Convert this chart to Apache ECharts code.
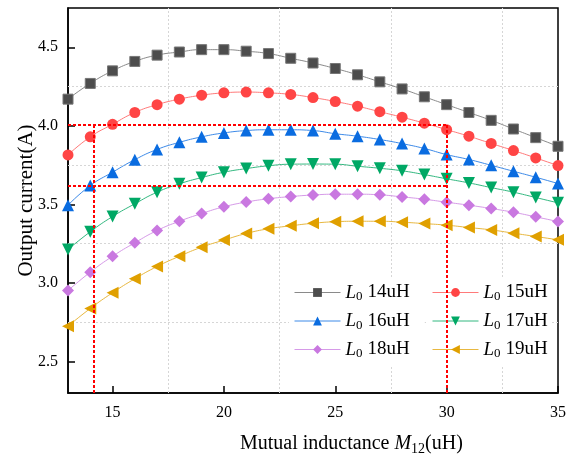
<!DOCTYPE html>
<html><head><meta charset="utf-8">
<script src="https://cdn.jsdelivr.net/npm/echarts@6/dist/echarts.min.js"></script>
<style>html,body{margin:0;padding:0;background:#fff}#c{width:569px;height:459px}</style>
</head><body><div id="c"></div>
<script>
// ---- data ----
const mutualInductance = [13,14,15,16,17,18,19,20,21,22,23,24,25,26,27,28,29,30,31,32,33,34,35];
const seriesNames = ['L0 14uH','L0 15uH','L0 16uH','L0 17uH','L0 18uH','L0 19uH'];
const L14 = [4.17,4.27,4.35,4.41,4.45,4.47,4.485,4.485,4.475,4.46,4.43,4.40,4.365,4.325,4.28,4.235,4.185,4.135,4.085,4.035,3.98,3.925,3.87];
const L15 = [3.815,3.93,4.01,4.085,4.135,4.17,4.195,4.21,4.215,4.21,4.2,4.18,4.155,4.125,4.09,4.055,4.017,3.976,3.934,3.888,3.843,3.796,3.747];
const L16 = [3.495,3.62,3.705,3.785,3.85,3.895,3.93,3.955,3.97,3.975,3.975,3.97,3.95,3.934,3.913,3.887,3.856,3.817,3.786,3.749,3.711,3.673,3.633];
const L17 = [3.213,3.326,3.423,3.504,3.578,3.631,3.671,3.705,3.728,3.746,3.756,3.757,3.756,3.743,3.73,3.714,3.69,3.663,3.637,3.607,3.578,3.544,3.51];
const L18 = [2.952,3.069,3.17,3.256,3.334,3.393,3.442,3.485,3.515,3.536,3.55,3.56,3.565,3.565,3.561,3.548,3.533,3.514,3.495,3.474,3.45,3.421,3.391];
const L19 = [2.725,2.838,2.938,3.027,3.105,3.17,3.228,3.273,3.315,3.345,3.364,3.38,3.39,3.393,3.393,3.387,3.378,3.368,3.353,3.338,3.317,3.296,3.275];
const xRange = [13, 35];
const yRange = [2.3, 4.75];
const xTicks = [15, 20, 25, 30, 35];
const yTicks = [2.5, 3.0, 3.5, 4.0, 4.5];
const gridLinesX = [17.5, 22.5, 27.5, 32.5];
const gridLinesY = [2.75, 3.25, 3.75, 4.25];
const refCurrents = [4.01, 3.62];   // horizontal red dotted lines (from 13 to 30)
const refInductances = [14.15, 30]; // vertical red dotted lines (from bottom to 4.01)
const refEndX = 30;

// ---- styling ----
const FONT = 'Liberation Serif';
const colors = ['#4d4d4d','#ff4545','#0a6ce0','#00a865','#c978e0','#e0a000'];
const lineColors = ['#8a8a8a','#ff7a7a','#3d8ae8','#33b880','#d69ae8','#e8b840'];
const symbols = ['rect','circle','triangle','triangle','diamond','triangle'];
const rotations = [0,0,0,180,0,90];
const sizes = [10,11,12,12,12,12];
const allData = [L14,L15,L16,L17,L18,L19];

const series = allData.map((d,i)=>({
  name: seriesNames[i], type:'line', data: d.map((v,j)=>[mutualInductance[j], v]),
  symbol: symbols[i], symbolSize: sizes[i], symbolRotate: rotations[i], smooth: true,
  itemStyle:{color: colors[i], borderColor: i===0 ? '#777' : colors[i], borderWidth: i===0?1:0},
  lineStyle:{color: lineColors[i], width:1, type:'solid'}, z: 3
}));

const gridMark = [];
gridLinesX.forEach(x=>gridMark.push([{coord:[x,yRange[0]]},{coord:[x,yRange[1]]}]));
gridLinesY.forEach(y=>gridMark.push([{coord:[xRange[0],y]},{coord:[xRange[1],y]}]));
series.push({type:'line', data:[], silent:true, z:1,
  markLine:{silent:true, z:1, symbol:['none','none'], label:{show:false}, animation:false,
    lineStyle:{color:'#d6d6d6', type:[2,2], width:1}, data: gridMark}});

const refMark = [];
refCurrents.forEach(y=>refMark.push([{coord:[xRange[0],y]},{coord:[refEndX,y]}]));
refInductances.forEach(x=>refMark.push([{coord:[x,yRange[0]]},{coord:[x,refCurrents[0]]}]));
series.push({type:'line', data:[], silent:true, z:10,
  markLine:{silent:true, z:10, symbol:['none','none'], label:{show:false}, animation:false,
    lineStyle:{color:'#ff0000', type:[3,2], width:2}, data: refMark}});

const legendRich = {
  i:{fontFamily:FONT, fontStyle:'italic', fontSize:19, lineHeight:22, color:'#000', verticalAlign:'middle'},
  s:{fontFamily:FONT, fontSize:13, lineHeight:13, color:'#000', verticalAlign:'bottom', padding:[0,5,0,0]},
  n:{fontFamily:FONT, fontSize:19, lineHeight:22, color:'#000', verticalAlign:'middle'}
};
const legendFmt = name => '{i|L}{s|0}{n|' + name.split(' ')[1] + '}';
const legendBase = {orient:'vertical', itemWidth:46, itemHeight:11, itemGap:8, top:278,
  backgroundColor:'#fff', z:4,
  lineStyle:{type:'solid', width:1}, itemStyle:{borderWidth:0},
  textStyle:{rich:legendRich}, formatter:legendFmt, selectedMode:false};

const chart = echarts.init(document.getElementById('c'), null, {renderer:'canvas'});
chart.setOption({
  animation:false,
  backgroundColor:'#fff',
  grid:{left:68, right:8, top:8, bottom:66, show:true, borderColor:'#000', borderWidth:1.5, backgroundColor:'transparent'},
  title:{text:'{n|Mutual inductance }{i|M}{s|12}{n|(uH)}', left:235, top:426,
    textStyle:{fontWeight:'normal', rich:{
      n:{fontFamily:FONT, fontSize:20, fontWeight:'normal', lineHeight:25, color:'#000', verticalAlign:'middle'},
      i:{fontFamily:FONT, fontSize:20, fontWeight:'normal', fontStyle:'italic', lineHeight:25, color:'#000', verticalAlign:'middle'},
      s:{fontFamily:FONT, fontSize:14, fontWeight:'normal', lineHeight:14, color:'#000', verticalAlign:'bottom'}
    }}},
  legend:[
    Object.assign({}, legendBase, {left:289, padding:[5,15,5,5], data:[seriesNames[0],seriesNames[2],seriesNames[4]]}),
    Object.assign({}, legendBase, {left:427, padding:[5,3,5,5], data:[seriesNames[1],seriesNames[3],seriesNames[5]]})
  ],
  xAxis:{type:'value', min:xRange[0], max:xRange[1],
    axisLine:{lineStyle:{color:'#000', width:1.5}},
    axisTick:{show:true, inside:true, length:7, lineStyle:{color:'#000', width:1.5}, customValues:xTicks},
    axisLabel:{fontFamily:FONT, fontSize:16, color:'#000', margin:12, customValues:xTicks},
    splitLine:{show:false}},
  yAxis:{type:'value', min:yRange[0], max:yRange[1],
    name:'Output current(A)', nameLocation:'middle', nameGap:31, nameRotate:90, nameMoveOverlap:false,
    nameTextStyle:{fontFamily:FONT, fontSize:21, color:'#000'},
    axisLine:{show:true, lineStyle:{color:'#000', width:1.5}},
    axisTick:{show:true, inside:true, length:7, lineStyle:{color:'#000', width:1.5}, customValues:yTicks},
    axisLabel:{fontFamily:FONT, fontSize:16, color:'#000', margin:10, customValues:yTicks,
      formatter: v => v.toFixed(1)},
    splitLine:{show:false}},
  series: series
});
</script>
</body></html>
